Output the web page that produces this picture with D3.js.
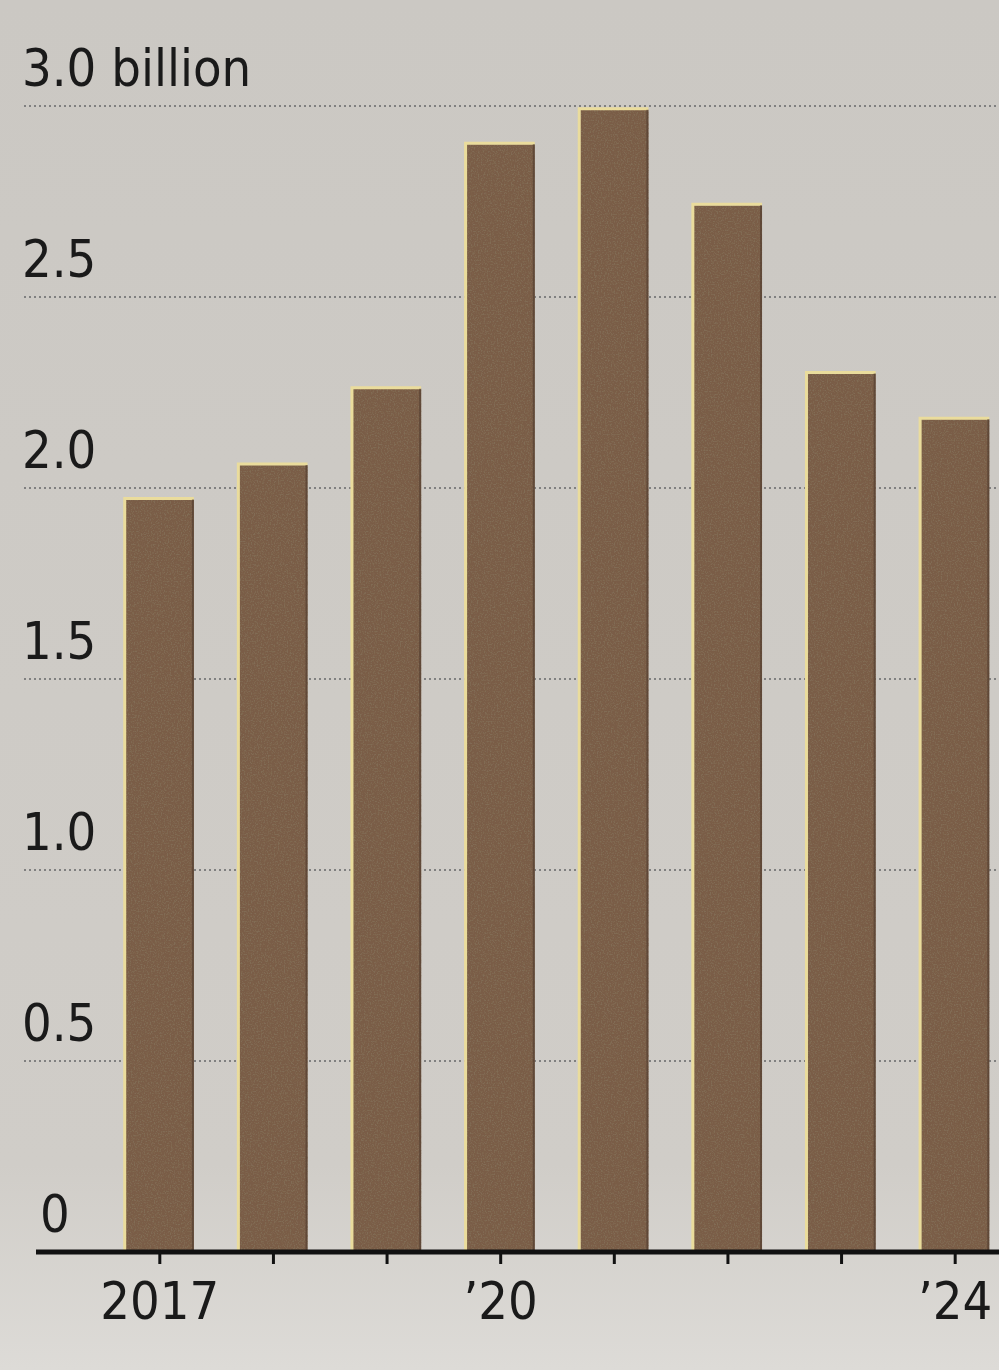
<!DOCTYPE html>
<html>
<head>
<meta charset="utf-8">
<script src="https://cdn.jsdelivr.net/npm/d3@7"></script>
<style>
  html, body { margin: 0; padding: 0; background: #cfccc7; }
  svg { display: block; }
  text { font-family: "DejaVu Sans Condensed", "Liberation Sans Narrow", "Open Sans", sans-serif; fill: #1a1a1a; }
</style>
</head>
<body>
<svg id="chart" width="999" height="1370"></svg>
<script>
// values (billions)
const years = [2017, 2018, 2019, 2020, 2021, 2022, 2023, 2024];
const values = [1.97, 2.06, 2.26, 2.90, 2.99, 2.74, 2.30, 2.18];
const yTicks = [0, 0.5, 1.0, 1.5, 2.0, 2.5, 3.0];
const yTickLabels = ["0", "0.5", "1.0", "1.5", "2.0", "2.5", "3.0 billion"];
const xTickLabels = { 2017: "2017", 2020: "\u201920", 2024: "\u201924" };

const W = 999, H = 1370;
const FONT_SIZE = 52;
const svg = d3.select('#chart');

const defs = svg.append('defs');
const bg = defs.append('linearGradient').attr('id', 'bg').attr('x1', 0).attr('y1', 0).attr('x2', 0).attr('y2', 1);
bg.append('stop').attr('offset', '0%').attr('stop-color', '#cbc8c3');
bg.append('stop').attr('offset', '85%').attr('stop-color', '#d0cdc8');
bg.append('stop').attr('offset', '100%').attr('stop-color', '#dddbd7');

// grainy newsprint look for the bars
const grain = defs.append('filter').attr('id', 'grain')
  .attr('filterUnits', 'userSpaceOnUse').attr('x', 0).attr('y', 0).attr('width', W).attr('height', H);
grain.append('feTurbulence').attr('type', 'fractalNoise').attr('baseFrequency', 0.7).attr('numOctaves', 2).attr('seed', 3).attr('result', 'noise');
grain.append('feColorMatrix').attr('in', 'noise').attr('type', 'matrix')
  .attr('values', '0 0 0 0 0.22  0 0 0 0 0.15  0 0 0 0 0.09  4 0 0 0 -1.9').attr('result', 'dots');
grain.append('feComposite').attr('in', 'dots').attr('in2', 'SourceGraphic').attr('operator', 'in').attr('result', 'dotsIn');
grain.append('feMerge').call(m => {
  m.append('feMergeNode').attr('in', 'SourceGraphic');
  m.append('feMergeNode').attr('in', 'dotsIn');
});

svg.append('rect').attr('width', W).attr('height', H).attr('fill', 'url(#bg)');

const y = d3.scaleLinear().domain([0, 3]).range([1252, 106]);
const x = d3.scaleBand().domain(years).range([103, 1012]).paddingInner(0.4).paddingOuter(0.2);

// gridlines + labels above them
const grid = svg.append('g').attr('class', 'grid');
grid.selectAll('line')
  .data(yTicks.filter(d => d > 0))
  .join('line')
  .attr('x1', 24).attr('x2', W)
  .attr('y1', d => y(d)).attr('y2', d => y(d))
  .attr('stroke', '#808080')
  .attr('stroke-width', 2)
  .attr('stroke-dasharray', '2 3');

grid.selectAll('text')
  .data(yTicks)
  .join('text')
  .attr('x', d => d === 0 ? 40 : 22)
  .attr('y', d => y(d) - 20)
  .attr('font-size', FONT_SIZE)
  .text((d, i) => yTickLabels[i]);

const rows = years.map((yr, i) => ({ yr, v: values[i] }));

// bars
const bars = svg.append('g').attr('class', 'bars');
bars.selectAll('rect.bar')
  .data(rows)
  .join('rect')
  .attr('class', 'bar')
  .attr('x', d => x(d.yr))
  .attr('y', d => y(d.v))
  .attr('width', x.bandwidth())
  .attr('height', d => y(0) - y(d.v))
  .attr('fill', '#7a5d46')
  .attr('filter', 'url(#grain)');

// thin cream edge on the left and top of each bar, dark shadow on the right
bars.selectAll('path.edge')
  .data(rows)
  .join('path')
  .attr('class', 'edge')
  .attr('d', d => `M${x(d.yr) - 1},${y(0)} V${y(d.v) - 1} H${x(d.yr) + x.bandwidth()}`)
  .attr('fill', 'none')
  .attr('stroke', '#eadc9c')
  .attr('stroke-width', 3);

bars.selectAll('line.shade')
  .data(rows)
  .join('line')
  .attr('class', 'shade')
  .attr('x1', d => x(d.yr) + x.bandwidth() - 1)
  .attr('x2', d => x(d.yr) + x.bandwidth() - 1)
  .attr('y1', d => y(d.v))
  .attr('y2', y(0))
  .attr('stroke', '#4e3a2d')
  .attr('stroke-width', 2)
  .attr('opacity', 0.6);

// x axis
const xAxis = d3.axisBottom(x)
  .tickSize(12)
  .tickPadding(18)
  .tickFormat(d => xTickLabels[d] || '');

const ax = svg.append('g')
  .attr('transform', `translate(0,${y(0)})`)
  .call(xAxis);
ax.select('.domain').remove();
ax.selectAll('.tick line').attr('stroke', '#111').attr('stroke-width', 3);
ax.selectAll('.tick text')
  .attr('font-size', FONT_SIZE)
  .attr('fill', '#1a1a1a')
  .style('font-family', '"DejaVu Sans Condensed", "Liberation Sans Narrow", sans-serif');

ax.append('line')
  .attr('x1', 36).attr('x2', W)
  .attr('y1', 0).attr('y2', 0)
  .attr('stroke', '#111')
  .attr('stroke-width', 5);
</script>
</body>
</html>
